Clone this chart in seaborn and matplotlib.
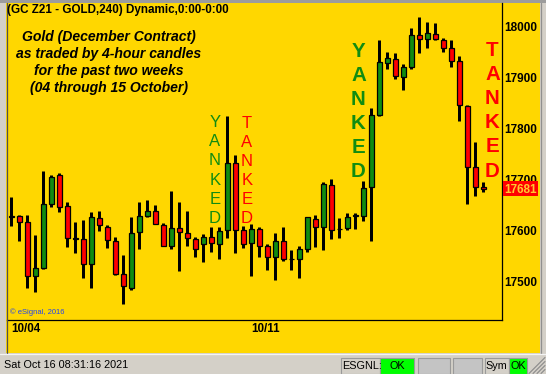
import numpy as np
import pandas as pd
import matplotlib
matplotlib.use("Agg")
import matplotlib.pyplot as plt
import seaborn as sns
from matplotlib.patches import Rectangle
from matplotlib.lines import Line2D

# ---------------- data (4-hour candles, GC Z21) ----------------
opens = [17627, 17628, 17616, 17510, 17526, 17652, 17708, 17647, 17583, 17582,
         17534, 17624, 17606, 17579, 17513, 17487, 17596, 17628, 17638, 17610,
         17568, 17604, 17594, 17582, 17572, 17587, 17573, 17600, 17732, 17600,
         17575, 17602, 17569, 17548, 17579, 17543, 17543, 17562, 17622, 17606,
         17689, 17602, 17605, 17628, 17628, 17685, 17826, 17929, 17936, 17902,
         17920, 17983, 17975, 17985, 17973, 17958, 17933, 17844, 17724, 17685]
highs = [17665, 17630, 17630, 17590, 17716, 17708, 17712, 17655, 17616, 17620,
         17636, 17638, 17610, 17587, 17551, 17626, 17655, 17659, 17649, 17614,
         17677, 17655, 17638, 17587, 17592, 17606, 17606, 17824, 17748, 17608,
         17613, 17607, 17573, 17594, 17606, 17561, 17569, 17626, 17630, 17695,
         17701, 17624, 17634, 17634, 17697, 17840, 17974, 17950, 17948, 17927,
         17997, 18019, 18009, 18007, 17977, 17974, 17942, 17846, 17773, 17695]
lows = [17608, 17579, 17487, 17479, 17524, 17646, 17636, 17567, 17556, 17506,
        17487, 17599, 17564, 17512, 17455, 17483, 17562, 17626, 17613, 17568,
        17562, 17520, 17569, 17548, 17538, 17558, 17544, 17585, 17556, 17564,
        17510, 17548, 17522, 17502, 17540, 17522, 17506, 17558, 17567, 17561,
        17583, 17585, 17600, 17603, 17619, 17579, 17825, 17917, 17898, 17876,
        17917, 17949, 17959, 17973, 17951, 17921, 17815, 17652, 17668, 17676]
closes = [17626, 17617, 17510, 17525, 17651, 17704, 17646, 17584, 17583, 17534,
          17626, 17611, 17580, 17514, 17490, 17594, 17627, 17638, 17613, 17568,
          17604, 17596, 17584, 17562, 17587, 17574, 17598, 17732, 17601, 17573,
          17602, 17569, 17548, 17579, 17544, 17543, 17563, 17625, 17606, 17691,
          17600, 17602, 17626, 17628, 17683, 17826, 17930, 17938, 17904, 17920,
          17983, 17975, 17987, 17975, 17959, 17933, 17847, 17725, 17685, 17681]
date_labels = ["10/04", "10/11"]
date_positions = [0, 30]
price_ticks = [17500, 17600, 17700, 17800, 17900, 18000]
last_price = 17681

title = "(GC Z21 - GOLD,240) Dynamic,0:00-0:00"
note_lines = ["Gold (December Contract)", "as traded by 4-hour candles",
              "for the past two weeks", "(04 through 15 October)"]
status_text = "Sat Oct 16 08:31:16 2021"

# ---------------- styling ----------------
sns.set_style("white")
plt.rcParams["font.family"] = ["Liberation Sans", "DejaVu Sans"]

W, H = 546, 374
YELLOW = "#FFD700"
GREEN = "#118C11"
RED = "#FF0000"
GRAYBG = "#D4D0C8"


def fx(x):
    return x / W


def fy(y):
    return 1 - y / H


fig = plt.figure(figsize=(W / 100, H / 100), dpi=100, facecolor=GRAYBG)

# window chrome
fig.add_artist(Rectangle((0, fy(2.5)), 1, 2.5 / H, transform=fig.transFigure,
                         facecolor="#9C9C9C", edgecolor="none", zorder=0))
fig.add_artist(Rectangle((fx(6), fy(353)), (540 - 6) / W, (353 - 2.5) / H,
                         transform=fig.transFigure, facecolor=YELLOW,
                         edgecolor="none", zorder=0))
fig.add_artist(Line2D([fx(6.5), fx(6.5)], [fy(2.5), fy(353)], transform=fig.transFigure,
                      color="#505050", lw=0.9, zorder=1))
fig.add_artist(Line2D([fx(540.5), fx(540.5)], [fy(2.5), fy(353)], transform=fig.transFigure,
                      color="#909090", lw=0.9, zorder=1))

# ---------------- price axes ----------------
ax = fig.add_axes([fx(7), fy(320), (502 - 7) / W, (320 - 3) / H])
ax.set_facecolor(YELLOW)

df = pd.DataFrame({"open": opens, "high": highs, "low": lows, "close": closes})
df["idx"] = np.arange(len(df))
df["bottom"] = df[["open", "close"]].min(axis=1)
df["height"] = (df["close"] - df["open"]).abs().clip(lower=1.0)
df["color"] = np.where(df["close"] > df["open"], GREEN,
                       np.where(df["close"] < df["open"], RED, "black"))

ax.vlines(df["idx"], df["low"], df["high"], color="black", lw=2.16, zorder=2)
ax.bar(df["idx"], df["height"], bottom=df["bottom"], width=0.56,
       color=df["color"], edgecolor="black", linewidth=0.9, zorder=3)

ax.set_xlim((7 - 11.3) / 8, (502 - 11.3) / 8)
ax.set_ylim(17423.4, 18046.6)

for s in ["top", "left"]:
    ax.spines[s].set_visible(False)
for s in ["right", "bottom"]:
    ax.spines[s].set_color("black")
    ax.spines[s].set_linewidth(0.9)

ax.yaxis.tick_right()
ax.set_yticks(price_ticks)
ax.set_yticklabels([str(v) for v in price_ticks], fontsize=8.5, fontweight="bold")
ax.tick_params(axis="y", length=0, pad=1.8, colors="black")

ax.set_xticks(date_positions)
ax.set_xticklabels(date_labels, fontsize=8.4, fontweight="bold", ha="left")
ax.tick_params(axis="x", direction="in", length=2, width=0.9, pad=2.5, colors="black")
ax.grid(False)

# last price flag
fig.canvas.draw()
ydisp = ax.transData.transform((0, last_price))[1]
ypix = H - ydisp
fig.add_artist(Rectangle((fx(502.8), fy(ypix + 7.5)), (537.7 - 502.8) / W, 15 / H,
                         transform=fig.transFigure, facecolor=RED,
                         edgecolor="none", zorder=5))
fig.text(fx(504), fy(ypix), str(last_price), ha="left", va="center_baseline",
         fontsize=8.5, fontweight="bold", color="#FFC830", zorder=6)

# ---------------- annotations ----------------
fig.text(fx(7), fy(10.5), title, ha="left", va="center", fontsize=8.4,
         fontweight="bold", color="black")
for k, line in enumerate(note_lines):
    fig.text(fx(109), fy(36.7 + 17 * k), line, ha="center", va="center",
             fontsize=10.1, fontweight="bold", fontstyle="italic", color="black")

for k, ch in enumerate("YANKED"):
    fig.text(fx(215), fy(127.3 + 19.08 * k), ch, ha="center", va="baseline",
             fontsize=12, color=GREEN)
for k, ch in enumerate("TANKED"):
    fig.text(fx(247), fy(127.8 + 19.08 * k), ch, ha="center", va="baseline",
             fontsize=12, color=RED)
for k, ch in enumerate("YANKED"):
    fig.text(fx(358.5), fy(56.6 + 24.0 * k), ch, ha="center", va="baseline",
             fontsize=14.8, fontweight="bold", color=GREEN)
for k, ch in enumerate("TANKED"):
    fig.text(fx(492.5), fy(55.6 + 24.2 * k), ch, ha="center", va="baseline",
             fontsize=14.8, fontweight="bold", color=RED)

fig.text(fx(10), fy(312.5), "\u00a9 eSignal, 2016", ha="left", va="center",
         fontsize=5.5, color="#2244EE")

# ---------------- status bar ----------------
fig.add_artist(Line2D([0, 1], [fy(353.5), fy(353.5)], transform=fig.transFigure,
                      color="#F4F4F4", lw=0.9))
fig.text(fx(4), fy(365.5), status_text, ha="left", va="center", fontsize=7.8,
         color="black")


def box(x0, x1, face):
    fig.add_artist(Rectangle((fx(x0), fy(373.8)), (x1 - x0) / W, (373.8 - 357.6) / H,
                             transform=fig.transFigure, facecolor=face,
                             edgecolor="#9A9A9A", lw=0.8, zorder=2))


box(341, 380, GRAYBG)
box(380, 414, "#00FF00")
box(417.5, 449.5, "#C4C4C4")
box(453, 482, "#C4C4C4")
box(484.5, 509, GRAYBG)
box(509, 527, "#00FF00")
fig.text(fx(342.5), fy(365.8), "ESGNL:", ha="left", va="center", fontsize=7.8, color="black")
fig.text(fx(397), fy(365.8), "OK", ha="center", va="center", fontsize=7.8, color="black")
fig.text(fx(485.5), fy(365.8), "Sym", ha="left", va="center", fontsize=7.8, color="black")
fig.text(fx(518), fy(365.8), "OK", ha="center", va="center", fontsize=7.8, color="black")
for d in [4, 8, 12, 16]:
    fig.add_artist(Line2D([fx(545 - d), fx(545)], [fy(373.5), fy(373.5 - d)],
                          transform=fig.transFigure, color="#8A8A8A", lw=0.8))

fig.savefig("out.png", dpi=100, facecolor=GRAYBG)
